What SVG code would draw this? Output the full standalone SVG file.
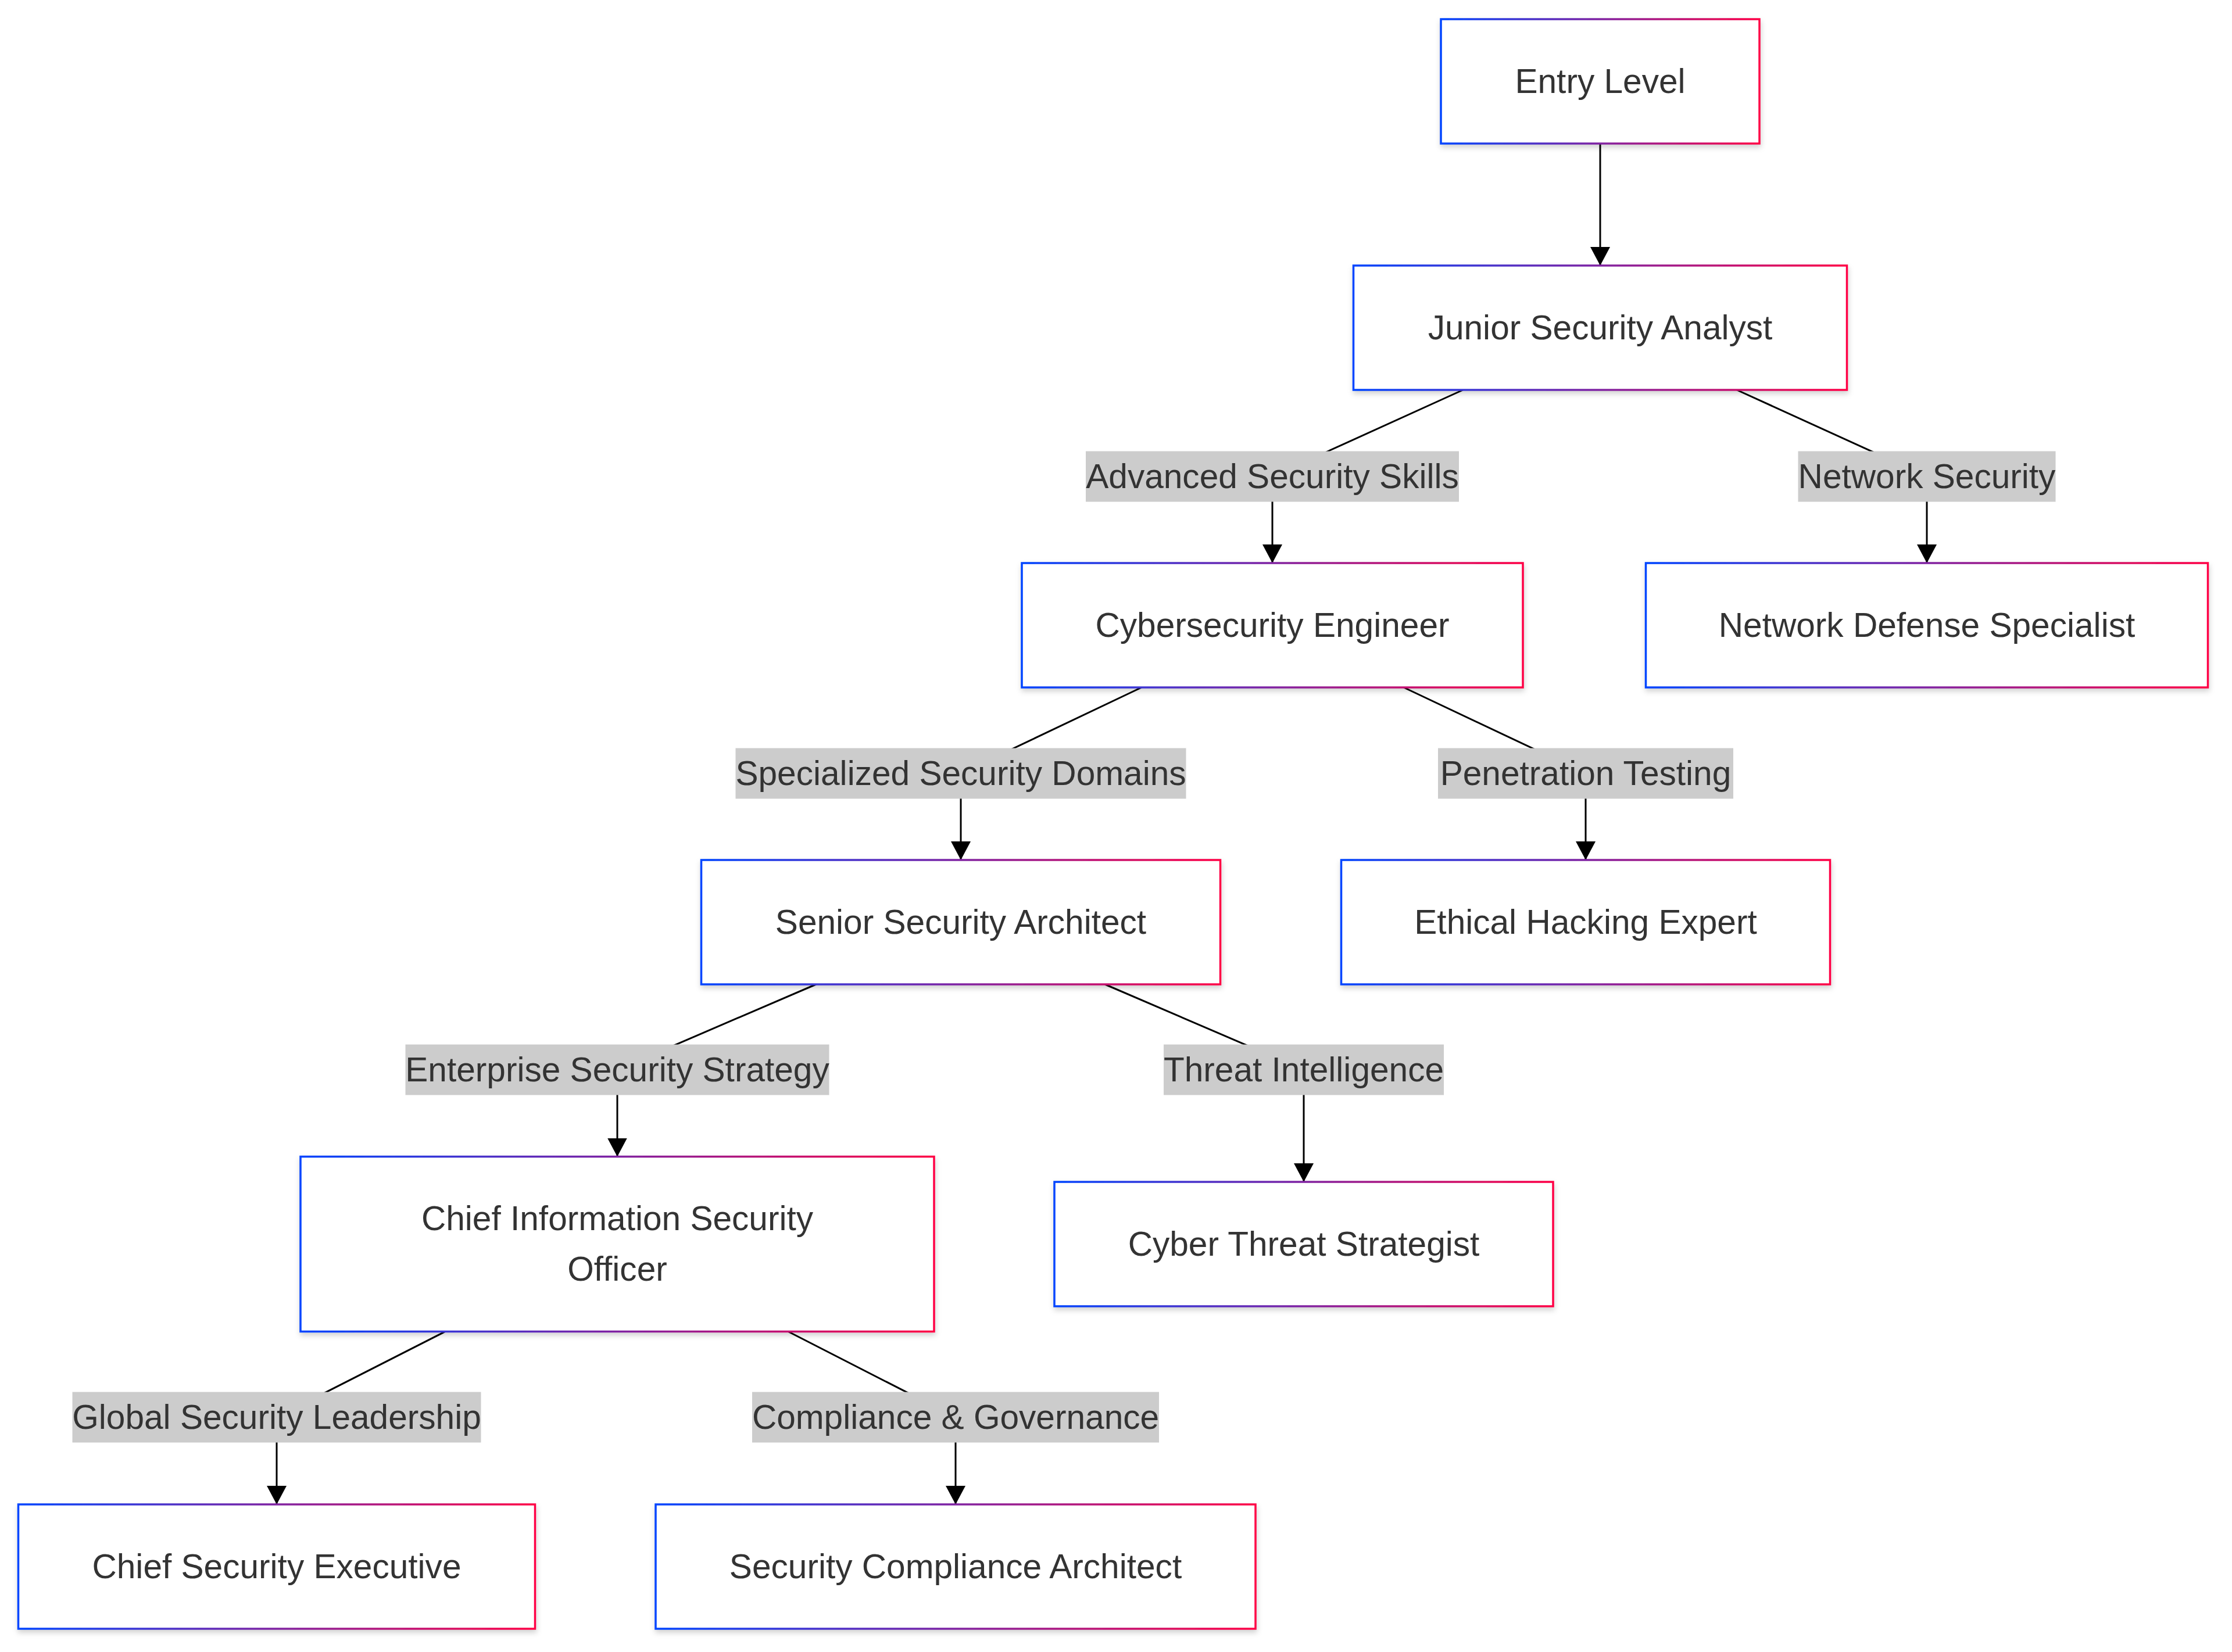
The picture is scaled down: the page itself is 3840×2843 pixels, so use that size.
<svg xmlns="http://www.w3.org/2000/svg" width="3840" height="2843" viewBox="0 0 3840 2843">
<style>
.node rect{fill:#ffffff;stroke:url(#grad);stroke-width:3.5;filter:url(#shadow);}
.node text,.elabel text{font-family:"Liberation Sans",Arial,sans-serif;font-size:58.6px;fill:#333333;text-anchor:middle;}
.elabel rect{fill:#cccccc;}
.edges path{fill:none;stroke:#000000;stroke-width:3;marker-end:url(#arrow);}
</style>
<defs>
<linearGradient id="grad" x1="0" y1="0" x2="1" y2="0">
<stop offset="0" stop-color="#0044ff"/>
<stop offset="1" stop-color="#ff0044"/>
</linearGradient>
<filter id="shadow" x="-10%" y="-20%" width="120%" height="150%">
<feDropShadow dx="1" dy="5" stdDeviation="5" flood-color="#000000" flood-opacity="0.18"/>
</filter>
<marker id="arrow" markerUnits="userSpaceOnUse" viewBox="0 0 32 34" markerWidth="32" markerHeight="34" refX="32" refY="17" orient="auto">
<path d="M0,0 L32,17 L0,34 z" fill="#000000"/>
</marker>
</defs>
<rect x="0" y="0" width="3840" height="2843" fill="#ffffff"/>

<g id="connectors" class="edges">
<path d="M2753,247 L2753,457"/>
<path d="M2517,671 L2189,820 L2189,969"/>
<path d="M2988,671 L3315,820 L3315,969"/>
<path d="M1964,1183 L1653,1331 L1653,1480"/>
<path d="M2415,1183 L2728,1331 L2728,1480"/>
<path d="M1404,1694 L1062,1841 L1062,1990.5"/>
<path d="M1901,1694 L2243,1841 L2243,2034"/>
<path d="M766,2291.5 L476,2439 L476,2589"/>
<path d="M1356,2291.5 L1644,2439 L1644,2589"/>
</g>

<g id="edge-labels">
<g class="elabel" id="label-advanced"><rect x="1868" y="776.5" width="642" height="87"/><text x="2189" y="840">Advanced Security Skills</text></g>
<g class="elabel" id="label-network"><rect x="3093.5" y="776.5" width="443" height="87"/><text x="3315" y="840">Network Security</text></g>
<g class="elabel" id="label-specialized"><rect x="1265.5" y="1287.5" width="775" height="87"/><text x="1653" y="1351">Specialized Security Domains</text></g>
<g class="elabel" id="label-penetration"><rect x="2474" y="1287.5" width="508" height="87"/><text x="2728" y="1351">Penetration Testing</text></g>
<g class="elabel" id="label-enterprise"><rect x="697.5" y="1797.5" width="729" height="87"/><text x="1062" y="1861">Enterprise Security Strategy</text></g>
<g class="elabel" id="label-threat"><rect x="2002" y="1797.5" width="482" height="87"/><text x="2243" y="1861">Threat Intelligence</text></g>
<g class="elabel" id="label-global"><rect x="124.5" y="2395.5" width="703" height="87"/><text x="476" y="2459">Global Security Leadership</text></g>
<g class="elabel" id="label-compliance"><rect x="1294" y="2395.5" width="700" height="87"/><text x="1644" y="2459">Compliance &amp; Governance</text></g>
</g>

<g id="node-entry" class="node"><rect x="2479" y="33" width="548" height="214"/><text x="2753" y="160">Entry Level</text></g>
<g id="node-junior" class="node"><rect x="2328.5" y="457" width="849" height="214"/><text x="2753" y="584">Junior Security Analyst</text></g>
<g id="node-cybereng" class="node"><rect x="1758" y="969" width="862" height="214"/><text x="2189" y="1096">Cybersecurity Engineer</text></g>
<g id="node-netdef" class="node"><rect x="2831.5" y="969" width="967" height="214"/><text x="3315" y="1096">Network Defense Specialist</text></g>
<g id="node-senior" class="node"><rect x="1206.5" y="1480" width="893" height="214"/><text x="1653" y="1607">Senior Security Architect</text></g>
<g id="node-ethical" class="node"><rect x="2307.5" y="1480" width="841" height="214"/><text x="2728" y="1607">Ethical Hacking Expert</text></g>
<g id="node-ciso" class="node"><rect x="517" y="1990.5" width="1090" height="301"/><text x="1062" y="2117">Chief Information Security</text><text x="1062" y="2204">Officer</text></g>
<g id="node-cyberthreat" class="node"><rect x="1814" y="2034" width="858" height="214"/><text x="2243" y="2161">Cyber Threat Strategist</text></g>
<g id="node-chiefexec" class="node"><rect x="31.5" y="2589" width="889" height="214"/><text x="476" y="2716">Chief Security Executive</text></g>
<g id="node-seccomp" class="node"><rect x="1128" y="2589" width="1032" height="214"/><text x="1644" y="2716">Security Compliance Architect</text></g>
</svg>
